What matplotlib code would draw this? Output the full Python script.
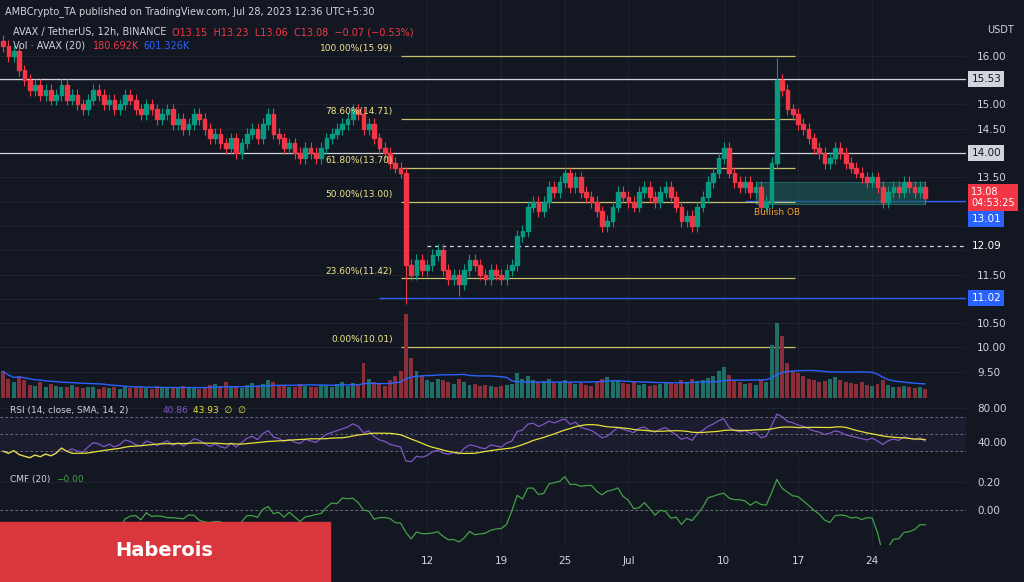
import numpy as np
import matplotlib
matplotlib.use("Agg")
import matplotlib.pyplot as plt
from matplotlib.patches import Rectangle

closes = [16.2,16.0,16.1,15.7,15.5,15.3,15.4,15.2,15.3,15.1,
          15.2,15.4,15.1,15.2,15.0,14.9,15.1,15.3,15.2,15.0,
          15.1,14.9,15.0,15.2,15.1,14.9,14.8,15.0,14.9,14.7,
          14.8,14.9,14.6,14.7,14.5,14.6,14.8,14.7,14.5,14.3,
          14.4,14.2,14.1,14.3,14.0,14.2,14.4,14.5,14.3,14.6,
          14.8,14.4,14.3,14.1,14.2,14.0,13.9,14.1,14.0,13.9,
          14.1,14.3,14.4,14.5,14.6,14.7,14.9,14.8,14.5,14.6,
          14.3,14.1,14.0,13.8,13.7,13.6,11.7,
          11.5,11.8,11.6,11.7,11.9,12.0,11.6,11.4,11.5,11.3,11.6,11.8,11.7,11.5,11.4,11.6,11.5,11.4,11.6,
          11.7,12.3,12.4,12.9,13.0,12.8,13.0,13.3,13.2,13.4,
          13.6,13.3,13.5,13.2,13.1,13.0,12.8,12.5,12.6,12.9,
          13.2,13.1,13.0,12.9,13.2,13.3,13.1,13.0,13.2,13.3,
          13.1,12.9,12.6,12.7,12.5,12.9,13.1,13.4,13.6,13.9,
          14.1,13.6,13.4,13.3,13.4,13.2,13.3,12.9,13.0,13.8,
          15.5,15.3,14.9,14.8,14.6,14.5,14.3,14.1,14.0,13.8,
          13.9,14.1,14.0,13.8,13.7,13.6,13.5,13.4,13.5,13.3,
          13.0,13.2,13.3,13.2,13.4,13.3,13.2,13.3,13.08]
volumes = [30,22,18,25,20,15,14,18,12,16,
           14,12,13,15,12,11,13,12,10,12,
           11,13,10,12,11,13,12,11,10,14,
           12,11,13,12,14,11,12,10,13,15,
           16,14,18,13,12,11,15,17,14,16,
           20,18,15,14,12,13,16,14,12,13,
           15,14,12,16,18,14,17,15,40,22,
           18,16,14,20,25,30,95,
           45,30,25,20,18,22,20,18,16,22,18,15,16,14,15,14,13,14,15,
           16,28,22,25,20,18,19,22,17,18,
           20,18,16,17,15,14,18,22,24,19,
           20,17,16,18,15,16,14,15,16,18,
           17,16,20,18,22,19,20,23,25,30,
           35,26,20,18,16,17,15,20,18,60,
           85,70,40,30,28,25,22,20,18,19,
           22,24,20,18,17,16,18,15,14,16,
           20,15,13,12,14,12,11,12,10]
fib_levels = [15.99,14.71,13.70,13.00,11.42,10.01]
fib_labels = ["100.00%(15.99)","78.60%(14.71)","61.80%(13.70)","50.00%(13.00)","23.60%(11.42)","0.00%(10.01)"]
grid_ticks = [9.50,10.00,10.50,11.00,11.50,12.00,12.50,13.00,13.50,14.00,14.50,15.00,15.50,16.00]
price_ticks = [9.50,10.00,10.50,11.50,13.50,14.50,15.00,16.00]
date_idx = [80,94,106,118,136,150,164]
date_labels = ["12","19","25","Jul","10","17","24"]

BG = "#131722"; UP = "#089981"; DN = "#f23645"; TXT = "#d1d4dc"; GRID = "#1f2330"
c = np.array(closes); n = len(c)
o = np.concatenate([[16.3], c[:-1]])
hi = np.maximum(o, c) + 0.12; lo = np.minimum(o, c) - 0.12
lo[76] = 10.9; hi[146] = 15.95; lo[86] = 11.05
v = np.array(volumes, float)
x = np.arange(n)

fig = plt.figure(figsize=(10.24, 5.82), dpi=100, facecolor=BG)
W, H = 1024, 582
def ax_px(top, bot, right=966):
    return fig.add_axes([0, 1-bot/H, right/W, (bot-top)/H], facecolor=BG)
ax = ax_px(0, 398)
ar = ax_px(400, 466)
ac = ax_px(468, 545)
xl = (-0.6, 181.7)

av = ax.twinx(); av.set_ylim(0, 450); av.set_xlim(*xl); av.axis("off")
vc = ["#1f6f66" if cc >= oo else "#8a2f3a" for cc, oo in zip(c, o)]
av.bar(x, v, width=0.75, color=vc)
vma = np.convolve(v, np.ones(20)/20, mode="full")[:n]
vma[:19] = np.cumsum(v[:19]) / np.arange(1, 20)
av.plot(x, vma, color="#2962ff", lw=1)

for a in (ax, ar, ac):
    a.set_xlim(*xl)
    for s in a.spines.values(): s.set_visible(False)
    a.set_xticks(date_idx)
    a.yaxis.tick_right()
    a.tick_params(length=0, labelbottom=False, labelleft=False, left=False,
                  labelright=True, right=False, colors=TXT, labelsize=7.5, pad=8)
    a.grid(True, color=GRID, lw=0.8, axis="x")
ac.tick_params(axis="x", labelbottom=True, pad=8)
ac.set_xticklabels(date_labels)

ax.set_ylim(8.96, 17.15)
for gt in grid_ticks:
    ax.axhline(gt, color=GRID, lw=0.8, zorder=0)
ax.set_yticks(price_ticks); ax.set_yticklabels([f"{t:.2f}" for t in price_ticks])
for a in (ar, ac):
    a.grid(True, color=GRID, lw=0.8, axis="y")
for a in (ax, ar):
    a.axhline(a.get_ylim()[0], color="#2a2e39", lw=1)
for i in range(n):
    col = UP if c[i] >= o[i] else DN
    ax.vlines(x[i], lo[i], hi[i], color=col, lw=0.8, zorder=3)
    ax.add_patch(Rectangle((x[i]-0.35, min(o[i], c[i])), 0.7, max(abs(c[i]-o[i]), 0.02), color=col, zorder=3))

ax.axhline(15.53, color="#d1d4dc", lw=0.9)
ax.axhline(14.00, color="#d1d4dc", lw=0.9)
ax.hlines(11.02, 71, xl[1], color="#2962ff", lw=1)
ax.hlines(12.09, 80, xl[1], color="#d1d4dc", lw=0.9, ls=(0, (3, 3)))
ax.hlines(13.01, 140, xl[1], color="#2962ff", lw=1)
ax.add_patch(Rectangle((142, 12.95), 32, 0.45, facecolor="#1b5e5a", alpha=0.6, edgecolor="#26a69a", lw=0.6, zorder=2))
ax.text(146, 12.72, "Bullish OB", color="#f59d2a", fontsize=6.5, ha="center")
for lv, lb in zip(fib_levels, fib_labels):
    ax.hlines(lv, 75, 149.5, color="#c8c26a", lw=0.9, zorder=2)
    ax.text(73.5, lv + 0.06, lb, color="#f0e68c", fontsize=6.5, ha="right", va="bottom")
def tag(a, y, s, fc, tc="white", fs=7.5):
    a.text(1.0055, y, s, transform=a.get_yaxis_transform(), fontsize=fs, color=tc, va="center", ha="left",
           bbox=dict(boxstyle="square,pad=0.3", fc=fc, ec="none"), zorder=5, linespacing=1.1)
tag(ax, 15.53, "15.53", "#d1d4dc", "#131722"); tag(ax, 14.00, "14.00", "#d1d4dc", "#131722")
tag(ax, 12.09, "12.09", "#131722", "white"); tag(ax, 11.02, "11.02", "#2962ff")
tag(ax, 12.64, "13.01", "#2962ff"); tag(ax, 13.09, "13.08\n04:53:25", DN, fs=7)
ax.text(1.022, 0.925, "USDT", transform=ax.transAxes, color=TXT, fontsize=7, va="center")

fig.text(0.005, 0.99, "AMBCrypto_TA published on TradingView.com, Jul 28, 2023 12:36 UTC+5:30", color=TXT, fontsize=7, va="top")
ax.text(0.013, 0.912, "AVAX / TetherUS, 12h, BINANCE", transform=ax.transAxes, color=TXT, fontsize=7)
ax.text(0.178, 0.912, "O13.15  H13.23  L13.06  C13.08  −0.07 (−0.53%)", transform=ax.transAxes, color=DN, fontsize=7)
ax.text(0.013, 0.877, "Vol · AVAX (20)", transform=ax.transAxes, color=TXT, fontsize=7)
ax.text(0.096, 0.877, "180.692K", transform=ax.transAxes, color=DN, fontsize=7)
ax.text(0.148, 0.877, "601.326K", transform=ax.transAxes, color="#2962ff", fontsize=7)

d = np.diff(c, prepend=c[0]); g = np.clip(d, 0, None); l = np.clip(-d, 0, None)
ag = np.zeros(n); al = np.zeros(n); ag[0] = g[:14].mean(); al[0] = l[:14].mean()
for i in range(1, n):
    ag[i] = (ag[i-1]*13 + g[i])/14; al[i] = (al[i-1]*13 + l[i])/14
rsi = 100 - 100/(1 + ag/np.maximum(al, 1e-9))
rma = np.convolve(rsi, np.ones(14)/14, mode="full")[:n]; rma[:13] = rsi[:13]
ar.set_ylim(11.8, 89.4); ar.set_yticks([40, 80]); ar.set_yticklabels(["40.00", "80.00"])
ar.axhspan(30, 70, color="#7e57c2", alpha=0.08)
for h_ in (30, 50, 70): ar.axhline(h_, color="#787b86", lw=0.6, ls=(0, (3, 3)))
ar.plot(x, rsi, color="#7e57c2", lw=0.9); ar.plot(x, rma, color="#e6e23a", lw=0.9)
ar.text(0.01, 0.8, "RSI (14, close, SMA, 14, 2)", transform=ar.transAxes, color=TXT, fontsize=6.5)
ar.text(0.168, 0.8, "40.86", transform=ar.transAxes, color="#7e57c2", fontsize=6.5)
ar.text(0.2, 0.8, "43.93  ∅  ∅", transform=ar.transAxes, color="#e6e23a", fontsize=6.5)

rng = np.maximum(hi - lo, 1e-9); mfv = ((c - lo) - (hi - c))/rng * v
cmf = np.array([mfv[max(0, i-19):i+1].sum()/v[max(0, i-19):i+1].sum() for i in range(n)])
ac.set_ylim(-0.25, 0.3); ac.set_yticks([0, 0.2]); ac.set_yticklabels(["0.00", "0.20"])
ac.axhline(0, color="#787b86", lw=0.6, ls=(0, (3, 3)))
ac.plot(x, cmf, color="#43a047", lw=0.9)
ac.text(0.01, 0.82, "CMF (20)", transform=ac.transAxes, color=TXT, fontsize=6.5)
ac.text(0.058, 0.82, "−0.00", transform=ac.transAxes, color="#43a047", fontsize=6.5)

fig.add_artist(Rectangle((0, 0), 330/W, 60/H, transform=fig.transFigure, color="#d9363e", zorder=10))
fig.text(115/W, 32/H, "Haberois", color="white", fontsize=14, fontweight="bold", va="center", zorder=11)
fig.savefig("out.png", dpi=100, facecolor=BG)
